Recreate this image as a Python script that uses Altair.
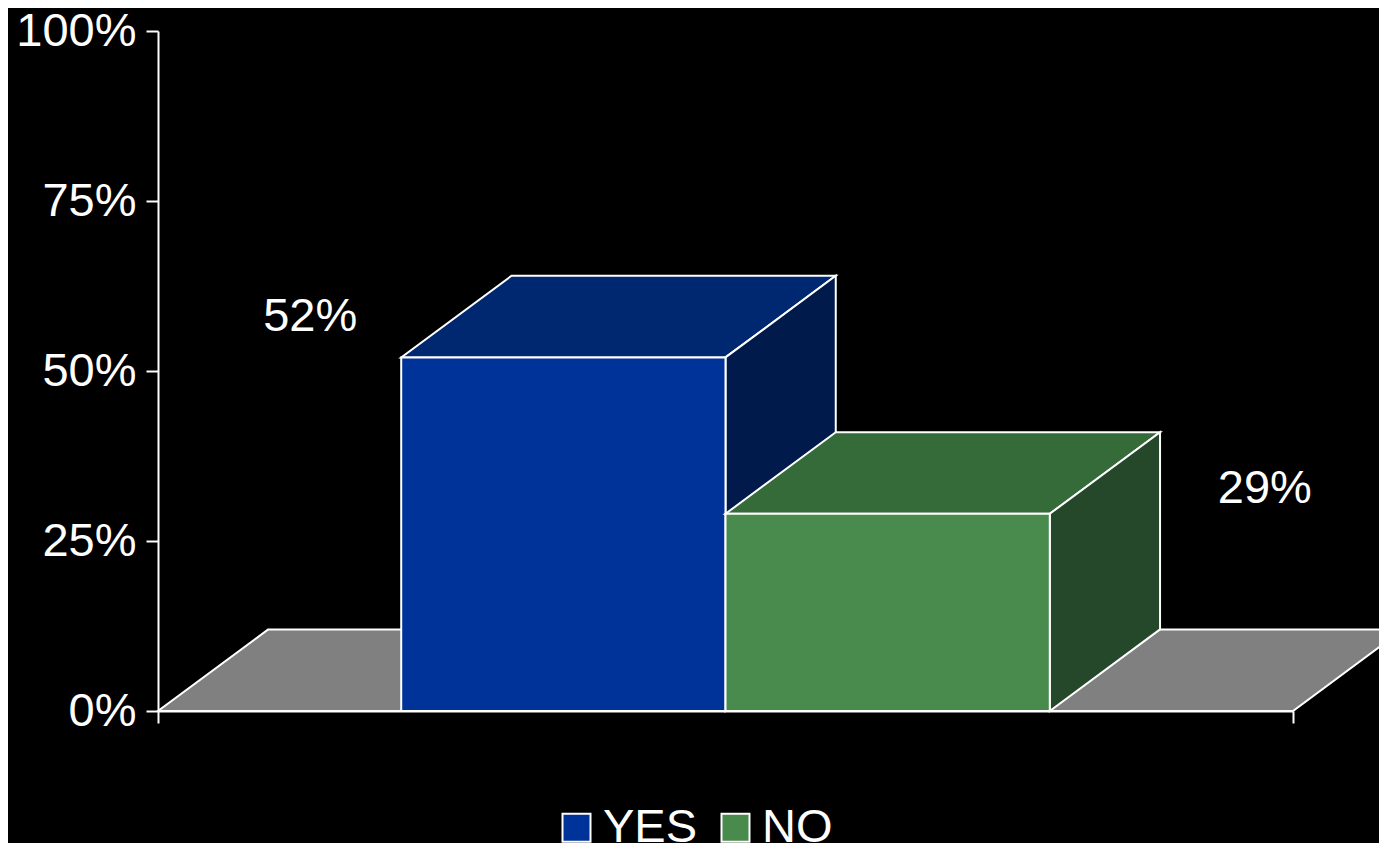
import altair as alt
import pandas as pd

# ---- data ----
categories = ["YES", "NO"]
values = [52, 29]
value_labels = ["52%", "29%"]
y_ticks = [0, 25, 50, 75, 100]

# ---- style ----
front_colors = ["#003399", "#488b4d"]
top_colors = ["#002870", "#356a39"]
side_colors = ["#001a4b", "#25472a"]
FLOOR = "#808080"
FONT = "Liberation Sans"
FS = 47

GAP = 0.75      # empty category space before/after the bars
BAR_W = 1.0
DEPTH_X = 0.34  # oblique depth in x units
DEPTH_Y = 12.0  # oblique depth in percent units
X_MAX = 2 * GAP + BAR_W * len(categories)

W, H = 1135, 680

xs = alt.Scale(domain=[0, X_MAX], nice=False, zero=False)
ys = alt.Scale(domain=[0, 100], nice=False, zero=True)

x_axis = alt.Axis(values=[0, X_MAX], labels=False, title=None, tickSize=12,
                  tickColor="white", tickWidth=2, domainColor="white",
                  domainWidth=2, grid=False, zindex=1)
y_axis = alt.Axis(values=y_ticks, labelExpr="datum.value + '%'", title=None,
                  labelFont=FONT, labelFontSize=FS, labelColor="white",
                  labelPadding=10, tickSize=12, tickColor="white", tickWidth=2,
                  domainColor="white", domainWidth=2, grid=False)

# floor
floor_df = pd.DataFrame({"y": [0, DEPTH_Y], "x": [0, DEPTH_X],
                         "x2": [X_MAX, X_MAX + DEPTH_X]})
floor = alt.Chart(floor_df).mark_area(
    orient="horizontal", fill=FLOOR, stroke="white", strokeWidth=2, opacity=1
).encode(
    y=alt.Y("y:Q", scale=ys, axis=y_axis),
    x=alt.X("x:Q", scale=xs, axis=x_axis),
    x2="x2:Q",
)

layers = [floor]
for i, (cat, v) in enumerate(zip(categories, values)):
    x0 = GAP + i * BAR_W
    x1 = x0 + BAR_W
    top_df = pd.DataFrame({"y": [v, v + DEPTH_Y], "x": [x0, x0 + DEPTH_X],
                           "x2": [x1, x1 + DEPTH_X]})
    side_df = pd.DataFrame({"x": [x1, x1 + DEPTH_X], "y": [v, v + DEPTH_Y],
                            "y2": [0, DEPTH_Y]})
    front_df = pd.DataFrame({"category": [cat], "x": [x0], "x2": [x1],
                             "y": [0], "y2": [v]})
    top = alt.Chart(top_df).mark_area(
        orient="horizontal", fill=top_colors[i], stroke="white", strokeWidth=2, opacity=1
    ).encode(y=alt.Y("y:Q", scale=ys, axis=y_axis),
             x=alt.X("x:Q", scale=xs, axis=x_axis), x2="x2:Q")
    side = alt.Chart(side_df).mark_area(
        orient="vertical", fill=side_colors[i], stroke="white", strokeWidth=2, opacity=1
    ).encode(x=alt.X("x:Q", scale=xs, axis=x_axis),
             y=alt.Y("y:Q", scale=ys, axis=y_axis), y2="y2:Q")
    front = alt.Chart(front_df).mark_rect(
        stroke="white", strokeWidth=2, opacity=1
    ).encode(
        x=alt.X("x:Q", scale=xs, axis=x_axis), x2="x2:Q",
        y=alt.Y("y:Q", scale=ys, axis=y_axis), y2="y2:Q",
        color=alt.Color("category:N",
                        scale=alt.Scale(domain=categories, range=front_colors),
                        legend=alt.Legend(
                            orient="none", legendX=395, legendY=773,
                            direction="horizontal", title=None,
                            symbolType="square", symbolSize=784,
                            symbolStrokeColor="white", symbolStrokeWidth=2,
                            symbolOpacity=1, labelFont=FONT, labelFontSize=FS,
                            labelColor="white", labelOffset=3,
                            columnPadding=14, labelLimit=300)),
    )
    layers += [top, side, front]

# value labels (placed as in the original 3-D layout)
label_specs = [(GAP, values[0], value_labels[0], -91, -40),
               (GAP + 2 * BAR_W, values[1], value_labels[1], 215, -25)]
for xv, yv, txt, ddx, ddy in label_specs:
    df = pd.DataFrame({"x": [xv], "y": [yv], "t": [txt]})
    layers.append(
        alt.Chart(df).mark_text(font=FONT, fontSize=FS, color="white",
                                align="center", baseline="middle", dx=ddx, dy=ddy)
        .encode(x=alt.X("x:Q", scale=xs, axis=x_axis),
                y=alt.Y("y:Q", scale=ys, axis=y_axis), text="t:N")
    )

chart = alt.layer(*layers).properties(
    width=W, height=H,
    autosize=alt.AutoSizeParams(type="none"),
    padding={"left": 150, "top": 23, "right": 86, "bottom": 132},
).configure(background="black").configure_view(strokeWidth=0)

chart.save("out.html", embed_options={"renderer": "svg", "actions": False})
